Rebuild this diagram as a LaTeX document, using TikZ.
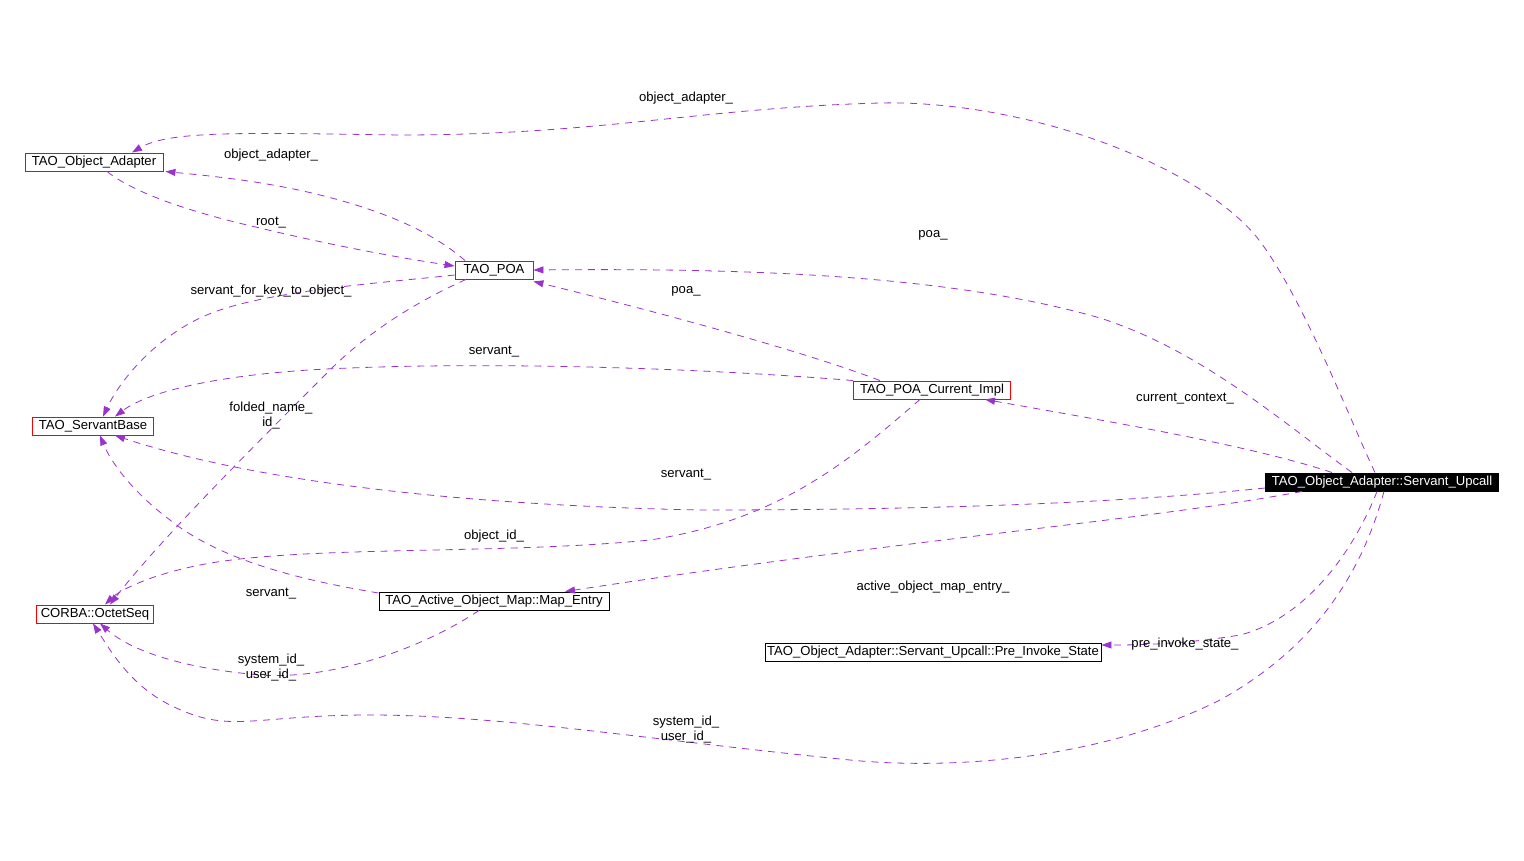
\documentclass[tikz,border=0pt]{standalone}
\usepackage{fontspec}
\setmainfont{Liberation Sans}
\usepackage{tikz}
\usetikzlibrary{arrows.meta}
\definecolor{edgex}{HTML}{9A32CD}
\definecolor{redx}{HTML}{FF0000}
\tikzset{
  cls/.style={draw=redx,line width=0.9pt,rectangle,minimum height=18pt,inner sep=0pt,fill=white},
  clsk/.style={cls,draw=black},
  cur/.style={cls,draw=black,fill=black,text=white},
  lnk/.style={-{Triangle[length=10pt,width=7pt]},edgex,line width=0.8pt,dash pattern=on 7pt off 6pt},
  lbl/.style={align=center,inner sep=0pt}
}
\begin{document}
\begin{tikzpicture}[x=1pt,y=-1pt,font=\fontsize{13.1}{15}\selectfont]
\useasboundingbox[fill=white] (0,0) rectangle (1524,861);
% classes
\node[cls,minimum width=138pt] (oa) at (94,162) {TAO\_Object\_Adapter};
\node[cls,minimum width=78pt] (poa) at (494,270) {TAO\_POA};
\node[cls,minimum width=121pt] (sb) at (93,426) {TAO\_ServantBase};
\node[cls,minimum width=117pt] (os) at (95,614) {CORBA::OctetSeq};
\node[cls,minimum width=157pt] (pci) at (932,390) {TAO\_POA\_Current\_Impl};
\node[cur,minimum width=233pt] (upcall) at (1382,482) {TAO\_Object\_Adapter::Servant\_Upcall};
\node[clsk,minimum width=230pt] (me) at (494,601) {TAO\_Active\_Object\_Map::Map\_Entry};
\node[clsk,minimum width=336pt] (pis) at (933,652) {TAO\_Object\_Adapter::Servant\_Upcall::Pre\_Invoke\_State};
% links
\draw[lnk] ([xshift=-7pt]upcall.north) .. controls (1350,420) and (1300,290) .. (1255,235)
  .. controls (1190,160) and (1020,100) .. (880,103) .. controls (700,108) and (600,135) .. (400,135)
  .. controls (250,133) and (170,130) .. ([xshift=38pt]oa.north);
\draw[lnk] ([xshift=-29pt]poa.north) .. controls (430,230) and (380,210) .. (320,195)
  .. controls (260,180) and (200,175) .. ([xshift=2pt]oa.south east);
\draw[lnk] ([xshift=13pt]oa.south) .. controls (130,190) and (180,210) .. (260,228)
  .. controls (330,245) and (400,258) .. ([yshift=4pt]poa.west);
\draw[lnk] ([yshift=-5pt]poa.west) .. controls (380,283) and (280,290) .. (220,310)
  .. controls (160,330) and (120,380) .. ([xshift=10pt]sb.north);
\draw[lnk] ([xshift=-28pt]poa.south) .. controls (420,300) and (370,330) .. (330,370)
  .. controls (250,450) and (160,540) .. ([xshift=15pt]os.north);
\draw[lnk] ([xshift=-30pt]upcall.north) .. controls (1280,420) and (1200,350) .. (1100,318)
  .. controls (950,275) and (750,268) .. (poa.east);
\draw[lnk] ([xshift=-52pt]pci.north) .. controls (800,350) and (650,310) .. ([yshift=-2pt]poa.south east);
\draw[lnk] (pci.north west) .. controls (700,368) and (500,362) .. (350,368)
  .. controls (230,372) and (150,390) .. ([xshift=22pt]sb.north);
\draw[lnk] ([xshift=-50pt]upcall.north) .. controls (1250,445) and (1100,420) .. ([xshift=53pt]pci.south);
\draw[lnk] ([yshift=-6pt]upcall.west) .. controls (1100,505) and (900,510) .. (700,510)
  .. controls (450,505) and (250,480) .. ([xshift=22pt]sb.south);
\draw[lnk] ([yshift=8pt]me.west) .. controls (300,580) and (220,560) .. (170,520)
  .. controls (130,490) and (110,460) .. ([xshift=7pt]sb.south);
\draw[lnk] ([xshift=-12pt]pci.south) .. controls (850,460) and (780,520) .. (650,540)
  .. controls (500,555) and (300,545) .. (200,565) .. controls (150,575) and (120,590) .. ([xshift=10pt]os.north);
\draw[lnk] ([xshift=-80pt]upcall.south) .. controls (1150,520) and (900,540) .. ([xshift=71pt]me.north);
\draw[lnk] ([xshift=-15pt]me.south) .. controls (420,650) and (330,680) .. (260,675)
  .. controls (180,668) and (130,650) .. ([xshift=5pt]os.south);
\draw[lnk] ([xshift=-5pt]upcall.south) .. controls (1350,560) and (1300,620) .. (1240,635)
  .. controls (1180,645) and (1130,645) .. ([yshift=7pt]pis.east);
\draw[lnk] ([xshift=2pt]upcall.south) .. controls (1360,580) and (1310,650) .. (1220,700)
  .. controls (1100,760) and (950,770) .. (850,760) .. controls (650,740) and (500,715) .. (370,715)
  .. controls (250,715) and (230,735) .. (170,705) .. controls (130,685) and (110,650) .. ([xshift=-2pt]os.south);
% labels
\node[lbl] (l1) at (686,98) {object\_adapter\_};
\node[lbl] (l2) at (271,155) {object\_adapter\_};
\node[lbl] (l3) at (271,223) {root\_};
\node[lbl] (l4) at (271,291) {servant\_for\_key\_to\_object\_};
\node[lbl] (l5) at (271,416) {folded\_name\_\\id\_};
\node[lbl] (l6) at (933,235) {poa\_};
\node[lbl] (l7) at (686,291) {poa\_};
\node[lbl] (l8) at (494,352) {servant\_};
\node[lbl] (l9) at (1185,399) {current\_context\_};
\node[lbl] (l10) at (686,475) {servant\_};
\node[lbl] (l11) at (271,594) {servant\_};
\node[lbl] (l12) at (494,536) {object\_id\_};
\node[lbl] (l13) at (933,587) {active\_object\_map\_entry\_};
\node[lbl] (l14) at (271,668) {system\_id\_\\user\_id\_};
\node[lbl] (l15) at (1185,644) {pre\_invoke\_state\_};
\node[lbl] (l16) at (686,730) {system\_id\_\\user\_id\_};
\end{tikzpicture}
\end{document}
